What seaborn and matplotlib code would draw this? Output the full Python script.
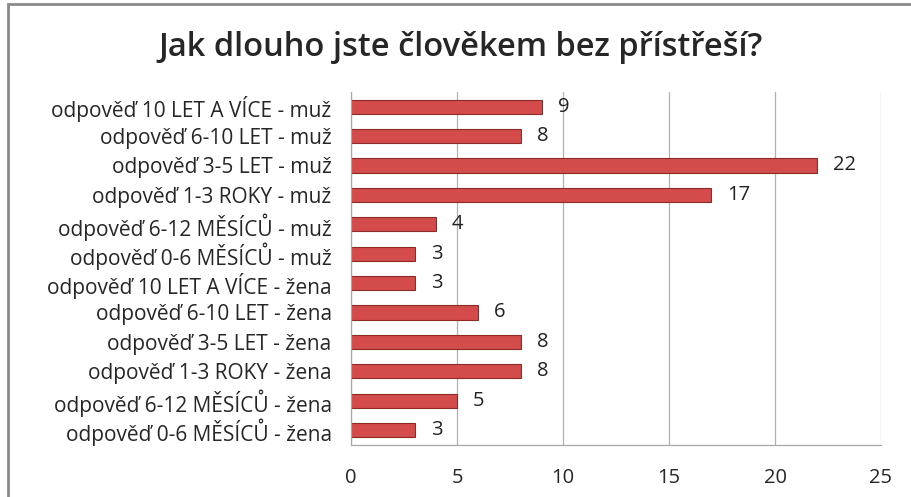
import matplotlib
matplotlib.use("Agg")
import matplotlib.pyplot as plt
import seaborn as sns
import pandas as pd
from matplotlib.patches import Rectangle

# data (top to bottom as in the chart)
kategorie = [
    "odpověď 10 LET A VÍCE - muž",
    "odpověď 6-10 LET - muž",
    "odpověď 3-5 LET - muž",
    "odpověď 1-3 ROKY - muž",
    "odpověď 6-12 MĚSÍCŮ - muž",
    "odpověď 0-6 MĚSÍCŮ - muž",
    "odpověď 10 LET A VÍCE - žena",
    "odpověď 6-10 LET - žena",
    "odpověď 3-5 LET - žena",
    "odpověď 1-3 ROKY - žena",
    "odpověď 6-12 MĚSÍCŮ - žena",
    "odpověď 0-6 MĚSÍCŮ - žena",
]
pocty = [9, 8, 22, 17, 4, 3, 3, 6, 8, 8, 5, 3]
x_ticks = [0, 5, 10, 15, 20, 25]

df = pd.DataFrame({"kategorie": kategorie, "pocet": pocty})

sns.set_theme(style="white")
plt.rcParams['font.family'] = ['Open Sans', 'DejaVu Sans']

fig = plt.figure(figsize=(9.12, 4.97), dpi=100)
ax = fig.add_axes([0.385, 0.105, 0.581, 0.71])

sns.barplot(data=df, x="pocet", y="kategorie", ax=ax, color="#d44b4b",
            edgecolor="#8e2a2a", linewidth=0.8, width=0.48, saturation=1)

for i, v in enumerate(pocty):
    ax.text(v + 0.75, i, str(v), va="center", ha="left", fontsize=14.5, color="#222222")

ax.set_xlim(0, 25)
ax.set_xticks(x_ticks)
ax.set_xticklabels([str(t) for t in x_ticks], fontsize=14.5)
ax.tick_params(axis="x", pad=17, length=0)
ax.tick_params(axis="y", pad=14, length=0, labelsize=15)
ax.set_xlabel("")
ax.set_ylabel("")
ax.grid(axis="x", color="#b0b0b0", linewidth=0.9)
ax.set_axisbelow(True)
for s in ["top", "right"]:
    ax.spines[s].set_visible(False)
for s in ["left", "bottom"]:
    ax.spines[s].set_color("#a8a8a8")
    ax.spines[s].set_linewidth(0.9)

fig.text(0.505, 0.905, "Jak dlouho jste člověkem bez přístřeší?", ha="center", va="center",
         fontsize=23.5, fontweight="semibold")

# outer frame of the chart
fig.patches.append(Rectangle((8 / 912, -0.1), 1.2, (497 - 4) / 497 + 0.1, transform=fig.transFigure,
                             fill=False, edgecolor="#8a8a8a", linewidth=2))

fig.savefig("out.png", dpi=100)
